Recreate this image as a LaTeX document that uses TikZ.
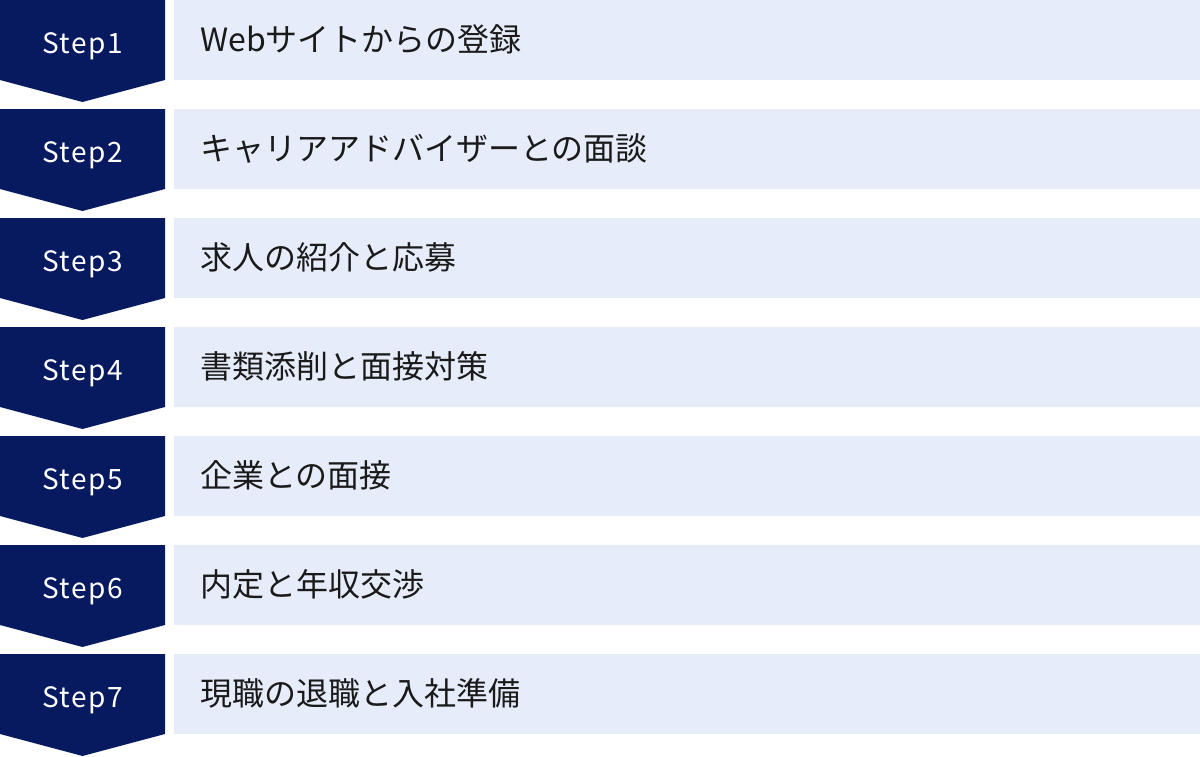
\documentclass[tikz,border=0pt]{standalone}
\usepackage{fontspec}
\setmainfont{Noto Sans CJK JP}
\newfontfamily\stepfont[LetterSpace=5]{Noto Sans CJK JP}
\definecolor{navy}{HTML}{071A60}
\definecolor{pale}{HTML}{E6ECF9}
\definecolor{ink}{HTML}{1A1A1A}
\tikzset{
  arrowshape/.style={fill=navy, draw=none},
  barshape/.style={fill=pale, draw=none},
  steplabel/.style={text=white, inner sep=0pt, anchor=base, font=\stepfont\fontsize{28}{30}\selectfont},
  textlabel/.style={text=ink, inner sep=0pt, anchor=base west, font=\fontsize{32}{36}\selectfont},
}
\begin{document}
\begin{tikzpicture}[x=1pt,y=-1pt]
\useasboundingbox (0,0) rectangle (1200,756);
\foreach \i/\t in {1/Webサイトからの登録,2/キャリアアドバイザーとの面談,3/求人の紹介と応募,4/書類添削と面接対策,5/企業との面接,6/内定と年収交渉,7/現職の退職と入社準備} {
  \pgfmathsetmacro\y{(\i-1)*109}
  \fill[arrowshape] (0,\y) -- (165,\y) -- (165,\y+80) -- (82.5,\y+102) -- (0,\y+80) -- cycle;
  \fill[barshape] (174,\y) rectangle (1200,\y+80);
  \node[steplabel] (s\i) at (82.5,\y+53) {Step\i};
  \node[textlabel] (t\i) at (200,\y+51) {\t};
}
\end{tikzpicture}
\end{document}
